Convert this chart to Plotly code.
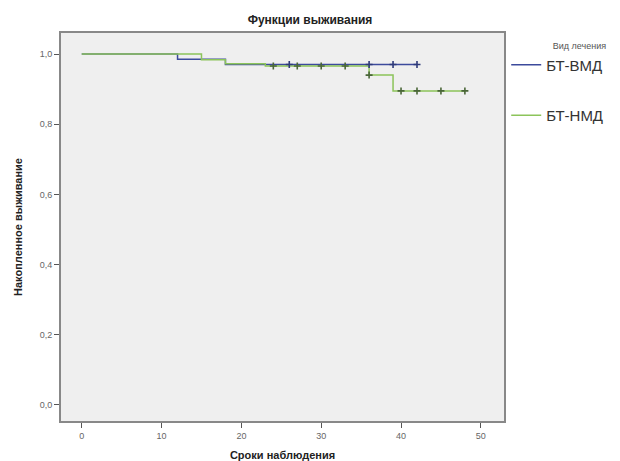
import plotly.graph_objects as go

# Kaplan-Meier survival steps
vmd_t = [0, 12, 18, 42]
vmd_s = [1.0, 0.985, 0.97, 0.97]
vmd_cens_t = [26, 36, 39, 42]
vmd_cens_s = [0.97, 0.97, 0.97, 0.97]

nmd_t = [0, 15, 18, 23, 36, 39, 48]
nmd_s = [1.0, 0.984, 0.972, 0.966, 0.94, 0.895, 0.895]
nmd_cens_t = [24, 27, 30, 33, 36, 40, 42, 45, 48]
nmd_cens_s = [0.966, 0.966, 0.966, 0.966, 0.94, 0.895, 0.895, 0.895, 0.895]

x_ticks = [0, 10, 20, 30, 40, 50]
y_ticks = [0.0, 0.2, 0.4, 0.6, 0.8, 1.0]
y_ticktext = ["0,0", "0,2", "0,4", "0,6", "0,8", "1,0"]

blue = "#3c4a9c"
green = "#8cc45a"

fig = go.Figure()
fig.add_trace(go.Scatter(x=vmd_t, y=vmd_s, mode="lines", line=dict(color=blue, width=1.5, shape="hv"),
                         name="БТ-ВМД", legendgroup="a"))
fig.add_trace(go.Scatter(x=nmd_t, y=nmd_s, mode="lines", line=dict(color=green, width=1.5, shape="hv"),
                         name="БТ-НМД", legendgroup="b"))
fig.add_trace(go.Scatter(x=nmd_cens_t, y=nmd_cens_s, mode="markers", showlegend=False, legendgroup="b",
                         marker=dict(symbol="cross-thin", size=5, color="#4a6638",
                                     line=dict(width=1.6, color="#4a6638"))))
fig.add_trace(go.Scatter(x=vmd_cens_t, y=vmd_cens_s, mode="markers", showlegend=False, legendgroup="a",
                         marker=dict(symbol="cross-thin", size=5, color="#2e3a7a",
                                     line=dict(width=1.6, color="#2e3a7a"))))

fig.update_layout(
    width=620, height=461,
    margin=dict(l=61, r=116, t=33, b=40, autoexpand=False),
    paper_bgcolor="white",
    plot_bgcolor="#efefef",
    font=dict(family="Liberation Sans, Arial, sans-serif", color="#333"),
    title=dict(text="<b>Функции выживания</b>", x=0.5, xanchor="center", y=0.958, yanchor="middle",
               font=dict(size=12, color="#222")),
    showlegend=True,
    legend=dict(x=1.005, xanchor="left", y=0.99, yanchor="top",
                title=dict(text="Вид лечения", font=dict(size=9, color="#555"), side="top right"),
                font=dict(size=15, color="#333"),
                traceorder="grouped", tracegroupgap=28, itemwidth=30,
                bgcolor="rgba(0,0,0,0)"),
)
fig.update_xaxes(range=[-2.6, 52.9], tickvals=x_ticks, ticks="outside", ticklen=5, tickcolor="#555",
                 showgrid=False, zeroline=False, showline=True, linecolor="#888", linewidth=2, mirror=True,
                 tickfont=dict(size=9, color="#666"), automargin=False,
                 title=dict(text="<b>Сроки наблюдения</b>", font=dict(size=11, color="#222")))
fig.update_yaxes(range=[-0.046, 1.06], tickvals=y_ticks, ticktext=y_ticktext, ticks="outside", ticklen=5,
                 tickcolor="#555", showgrid=False, zeroline=False, showline=True, linecolor="#888", linewidth=2,
                 mirror=True, tickfont=dict(size=9, color="#666"), automargin=False,
                 title=dict(text="<b>Накопленное выживание</b>", font=dict(size=11, color="#222")))

fig.write_html("out.html", config={"displayModeBar": False},
               post_script="document.body.style.margin='0';document.body.style.overflow='hidden';")
